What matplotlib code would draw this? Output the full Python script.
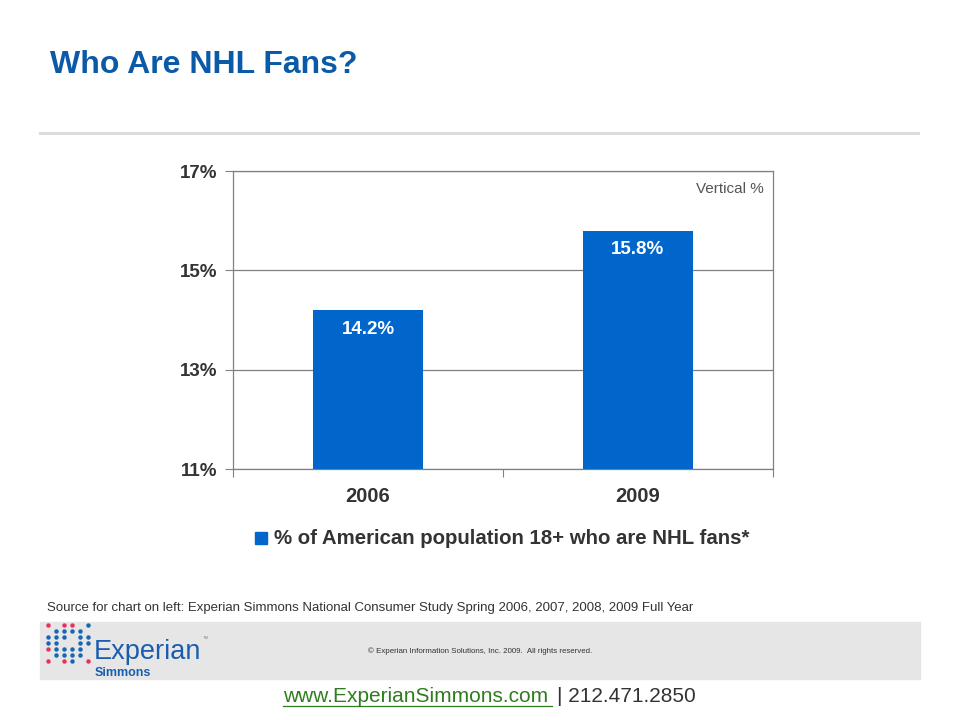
import matplotlib
matplotlib.use("Agg")
import matplotlib.pyplot as plt
from matplotlib.patches import Rectangle

plt.rcParams['font.family'] = ['Liberation Sans', 'DejaVu Sans']

categories = ['2006', '2009']
values = [14.2, 15.8]
value_labels = ['14.2%', '15.8%']
yticks = [11, 13, 15, 17]
ytick_labels = ['11%', '13%', '15%', '17%']
series_name = '% of American population 18+ who are NHL fans*'

BLUE = '#0066CC'
W, H = 960, 720
fig = plt.figure(figsize=(9.6, 7.2), dpi=100)

def fx(px):
    return px / W

def fy(py):
    return 1 - py / H

# Title
fig.text(fx(50), fy(73), 'Who Are NHL Fans?', fontsize=23, fontweight='bold',
         color='#0B5AA8', ha='left', va='baseline')
# Separator line
fig.add_artist(plt.Line2D([fx(40), fx(918)], [fy(133), fy(133)], color='#DCDCDC', lw=2.2))

# Chart axes
ax = fig.add_axes([fx(233), fy(469), fx(773) - fx(233), fy(171) - fy(469)])
x = list(range(len(categories)))
bars = ax.bar(x, values, width=0.404, color=BLUE, bottom=0, zorder=3)
ax.set_xlim(-0.5, len(categories) - 0.5)
ax.set_ylim(yticks[0], yticks[-1])
ax.set_yticks(yticks)
ax.set_yticklabels(ytick_labels, fontsize=13.5, fontweight='bold', color='#333333')
ax.set_xticks([i - 0.5 for i in range(len(categories) + 1)], minor=False)
ax.set_xticklabels([''] * (len(categories) + 1))
ax.set_xticks(x, minor=True)
ax.set_xticklabels(categories, minor=True, fontsize=14.5, fontweight='bold', color='#333333')
ax.tick_params(axis='x', which='minor', length=0, pad=13)
ax.tick_params(axis='x', which='major', length=6, direction='out', color='#808080')
ax.tick_params(axis='y', length=6, direction='out', color='#808080', pad=5)
ax.grid(axis='y', color='#808080', lw=0.9, zorder=0)
for s in ax.spines.values():
    s.set_color('#808080')
    s.set_linewidth(0.9)

for b, lab in zip(bars, value_labels):
    ax.annotate(lab, (b.get_x() + b.get_width() / 2, b.get_height()),
                xytext=(0, -19), textcoords='offset pixels',
                ha='center', va='center', color='white', fontsize=13.5, fontweight='bold')

ax.text(0.982, 0.94, 'Vertical %', transform=ax.transAxes, ha='right', va='center',
        fontsize=11, color='#555555')

# Legend
fig.add_artist(Rectangle((fx(255), fy(544)), fx(267) - fx(255), fy(532) - fy(544),
                         color=BLUE, transform=fig.transFigure))
fig.text(fx(274), fy(538), series_name, fontsize=14.7, fontweight='bold',
         color='#333333', ha='left', va='center')

# Source
fig.text(fx(47), fy(608), 'Source for chart on left: Experian Simmons National Consumer Study Spring 2006, 2007, 2008, 2009 Full Year',
         fontsize=9.5, color='#333333', ha='left', va='center')

# Footer band
fig.add_artist(Rectangle((fx(40), fy(679)), fx(920) - fx(40), fy(622) - fy(679),
                         color='#E6E6E6', transform=fig.transFigure, zorder=0))
fig.text(fx(368), fy(651), '\u00a9 Experian Information Solutions, Inc. 2009.  All rights reserved.',
         fontsize=5.7, color='#333333', ha='left', va='center')

# Logo dots
pink = '#E8305A'
lblue = '#1565B8'
dots = [
    (48, 625, pink), (64, 625, pink), (72, 625, pink), (88, 625, lblue),
    (56, 631, lblue), (64, 631, lblue), (72, 631, lblue), (80, 631, lblue),
    (48, 637, lblue), (56, 637, lblue), (64, 637, lblue), (80, 637, lblue), (88, 637, lblue),
    (48, 643, lblue), (56, 643, lblue), (80, 643, lblue), (88, 643, lblue),
    (48, 649, pink), (56, 649, lblue), (64, 649, lblue), (72, 649, lblue), (80, 649, lblue),
    (56, 655, lblue), (64, 655, lblue), (72, 655, lblue), (80, 655, lblue),
    (48, 661, pink), (64, 661, pink), (72, 661, lblue), (88, 661, pink),
]
for dx, dy, c in dots:
    fig.add_artist(plt.Line2D([fx(dx)], [fy(dy)], marker='o', markersize=3.2,
                              color=c, markeredgewidth=0))
fig.text(fx(94), fy(659), 'Experian', fontsize=19.5, color='#1A5DAD', ha='left', va='baseline')
fig.text(fx(203), fy(638), 'TM', fontsize=3, color='#888888', ha='left', va='center')
fig.text(fx(95), fy(673), 'Simmons', fontsize=9, fontweight='bold', color='#1A5DAD',
         ha='left', va='center')

# URL
fig.text(fx(283), fy(696), 'www.ExperianSimmons.com', fontsize=15, color='#2E7D1E',
         ha='left', va='center')
fig.add_artist(plt.Line2D([fx(283), fx(552)], [fy(706), fy(706)], color='#2E7D1E', lw=0.9))
fig.text(fx(557), fy(696), '| 212.471.2850', fontsize=15, color='#333333',
         ha='left', va='center')

fig.savefig('out.png', dpi=100)
